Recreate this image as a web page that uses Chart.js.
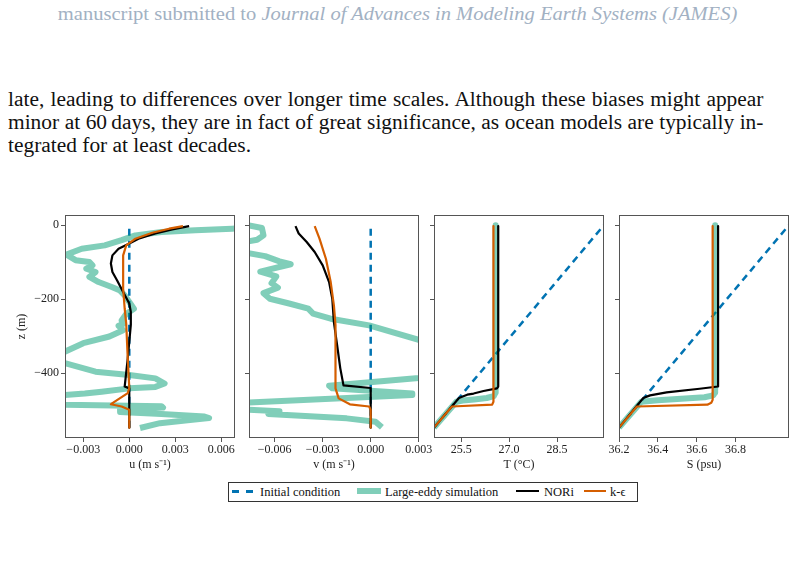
<!DOCTYPE html>
<html lang="en">
<head>
<meta charset="UTF-8">
<title>Ocean profiles after 60 days</title>
<script src="https://cdn.jsdelivr.net/npm/chart.js@4.4.0/dist/chart.umd.min.js"></script>
<style>
    body {
        margin: 0;
        width: 796px;
        height: 570px;
        position: relative;
        overflow: hidden;
        background: #fff;
        font-family: 'Liberation Serif', serif;
    }

    .header {
        position: absolute;
        top: 5px;
        left: 0;
        width: 796px;
        text-align: center;
        font-family: 'Liberation Serif', serif;
        font-size: 18.5px;
        line-height: 1;
        color: #a2b1c3;
        white-space: nowrap;
        transform: scaleX(1.11);
        transform-origin: 402px 0;
    }

    .para {
        position: absolute;
        left: 8px;
        top: 88px;
        width: 706px;
        font-family: 'Liberation Serif', serif;
        font-size: 20px;
        line-height: 23px;
        color: #111;
        transform: scaleX(1.07);
        transform-origin: 0 0;
    }

    .para div {
        white-space: nowrap;
        text-align: justify;
        text-align-last: justify;
    }

    .para div.last {
        text-align-last: left;
    }

    canvas {
        position: absolute;
    }

    /* figure legend, below the four panels */
    .legend {
        position: absolute;
        left: 228px;
        top: 482px;
        width: 408px;
        height: 18px;
        border: 1px solid #333;
        font-size: 12.5px;
        color: #111;
    }

    .legend span {
        position: absolute;
    }

    .legend .lab {
        top: 0;
        line-height: 18px;
        white-space: nowrap;
    }
</style>
</head>
<body>
    <div class="header">manuscript submitted to <i>Journal of Advances in Modeling Earth Systems (JAMES)</i></div>

    <div class="para">
        <div>late, leading to differences over longer time scales. Although these biases might appear</div>
        <div>minor at 60&thinsp;days, they are in fact of great significance, as ocean models are typically in-</div>
        <div class="last">tegrated for at least decades.</div>
    </div>

    <div id="figure"></div>

    <div class="legend">
        <span style="left:3px; top:7px; width:7px; height:2.5px; background:#0173b2"></span>
        <span style="left:17px; top:7px; width:7px; height:2.5px; background:#0173b2"></span>
        <span class="lab" style="left:31px">Initial condition</span>
        <span style="left:128px; top:5px; width:24px; height:6px; background:rgba(2,158,115,0.5)"></span>
        <span class="lab" style="left:156px">Large-eddy simulation</span>
        <span style="left:287px; top:7px; width:23px; height:2px; background:#000"></span>
        <span class="lab" style="left:315px">NORi</span>
        <span style="left:355px; top:7px; width:22px; height:2px; background:#d55e00"></span>
        <span class="lab" style="left:381px">k-&#1013;</span>
    </div>

<script>
    // ---- tick labels ----
    const zTicks = [0, -200, -400];
    const uTicks = [-0.003, 0, 0.003, 0.006];
    const vTicks = [-0.006, -0.003, 0, 0.003];
    const tTicks = [25.5, 27.0, 28.5];
    const sTicks = [36.2, 36.4, 36.6, 36.8];

    // ---- initial condition (z in m) ----
    const zInit = [-547, 0];
    const uInit = [0, 0];
    const vInit = [0, 0];
    const tInit = [24.65, 29.97];
    const sInit = [36.2, 37.075];

    // ---- u (m/s) ----
    const zLesU = [-4, -10, -14, -19, -28, -41, -55, -64, -80, -95, -100, -109, -118, -127, -140, -154, -168, -177, -190, -208,
                   -226, -240, -258, -267, -272, -284, -301, -319, -342, -357, -373, -396, -405, -414, -428, -437, -441, -450, -455, -459,
                   -472, -485, -489, -493, -496, -505, -510, -517, -521, -527, -535, -548];
    const uLes = [0.0095, 0.0067, 0.0043, 0.0021, 0.0004, -0.0005, -0.0016, -0.0031, -0.0041, -0.0035, -0.0026, -0.0024, -0.0028, -0.0022, -0.0026, -0.0020, -0.0011, -0.0006, -0.0003, 0.0000,
                  0.0003, -0.0002, -0.0005, -0.0004, -0.0007, -0.0004, -0.0013, -0.0030, -0.0042, -0.0052, -0.0042, -0.0022, 0.0000, 0.0017, 0.0023, 0.0017, 0.0000, -0.0018, -0.0029, -0.0042,
                  -0.0055, -0.0042, 0.0021, 0.0022, -0.0006, -0.0006, 0.0021, 0.0049, 0.0052, 0.0038, 0.0020, 0.0007];
    const zNoriU = [-3, -12, -23, -37, -50, -64, -82, -104, -127, -149, -181, -212, -235, -270, -315, -360, -436, -441, -547];
    const uNori = [0.0039, 0.0028, 0.0017, 0.0006, 0.0000, -0.0007, -0.0011, -0.0012, -0.0011, -0.0008, -0.0004, 0.0000, 0.0001, 0.0001, 0.0000, -0.0001, -0.0003, 0.0000, 0.0000];
    const zKepsU = [-3, -10, -21, -37, -55, -82, -118, -172, -226, -266, -360, -440, -454, -481, -484, -490, -499, -547];
    const uKeps = [0.0035, 0.0026, 0.0015, 0.0004, -0.0002, -0.0004, -0.0004, -0.0004, -0.0003, -0.0002, -0.0001, 0.0000, -0.0001, -0.0011, -0.0012, -0.0005, 0.0000, 0.0000];

    // ---- v (m/s) ----
    const zLesV = [-1, -8, -28, -40, -48, -72, -84, -98, -106, -126, -139, -157, -169, -184, -199, -212, -226, -239, -253, -271,
                   -310, -316, -410, -413, -434, -441, -455, -459, -480, -497, -503, -510, -522, -531, -546];
    const vLes = [-0.0076, -0.0068, -0.0067, -0.0071, -0.0082, -0.0082, -0.0066, -0.0057, -0.0050, -0.0069, -0.0059, -0.0062, -0.0058, -0.0067, -0.0063, -0.0051, -0.0039, -0.0036, -0.0025, -0.0001,
                  0.0030, 0.0036, 0.0036, 0.0030, -0.0026, -0.0024, 0.0026, 0.0026, -0.0082, -0.0082, -0.0057, -0.0064, -0.0015, 0.0003, 0.0007];
    const zNoriV = [-3, -23, -46, -73, -109, -154, -199, -262, -324, -387, -433, -440, -547];
    const vNori = [-0.0047, -0.0045, -0.0040, -0.0035, -0.0030, -0.0026, -0.0024, -0.0023, -0.0021, -0.0019, -0.0017, 0.0000, 0.0000];
    const zKepsV = [-3, -37, -91, -154, -217, -270, -315, -405, -441, -468, -484, -490, -499, -547];
    const vKeps = [-0.0035, -0.0032, -0.0028, -0.0025, -0.0023, -0.0022, -0.0022, -0.0022, -0.0022, -0.0020, -0.0013, -0.0001, 0.0000, 0.0000];

    // ---- T (degC) ----
    const zLesT = [-1, -452, -462, -467, -471, -474, -477, -547];
    const tLes = [26.58, 26.58, 26.52, 26.30, 25.90, 25.55, 25.35, 24.65];
    const zNoriT = [-3, -436, -441, -448, -455, -458, -467, -547];
    const tNori = [26.66, 26.66, 26.62, 26.20, 25.89, 25.69, 25.43, 24.65];
    const zKepsT = [-3, -477, -485, -490, -547];
    const tKeps = [26.51, 26.51, 26.47, 25.21, 24.65];

    // ---- S (psu) ----
    const zLesS = [-1, -452, -460, -465, -470, -473, -477, -547];
    const sLes = [36.695, 36.695, 36.685, 36.64, 36.50, 36.40, 36.315, 36.2];
    const zNoriS = [-3, -436, -442, -452, -460, -467, -547];
    const sNori = [36.71, 36.71, 36.615, 36.445, 36.36, 36.325, 36.2];
    const zKepsS = [-3, -472, -480, -485, -490, -547];
    const sKeps = [36.682, 36.682, 36.675, 36.655, 36.292, 36.2];

    const pts = (xs, zs) => xs.map((x, i) => ({ x: x, y: zs[i] }));
    const fmt = (v, d) => v.toFixed(d).replace('-', '\u2212');

    const font = { family: "'Liberation Serif', serif", size: 12 };
    const ink = '#222';

    // frame round the plot area (matplotlib spines)
    const frame = {
        id: 'frame',
        afterDatasetsDraw(chart) {
            const { ctx, chartArea: a } = chart;
            ctx.save();
            ctx.strokeStyle = '#555';
            ctx.lineWidth = 1;
            ctx.strokeRect(a.left + 0.5, a.top + 0.5, a.right - a.left - 1, a.bottom - a.top - 1);
            ctx.restore();
        }
    };

    const panels = [
        { left: 65, yw: 65, pr: 20, min: -0.00419, max: 0.00689, ticks: uTicks, dec: 3, title: 'u (m s\u207B\u00B9)', zLabels: true,
          init: pts(uInit, zInit), les: pts(uLes, zLesU), nori: pts(uNori, zNoriU), keps: pts(uKeps, zKepsU) },
        { left: 249, yw: 16, pr: 20, min: -0.007606, max: 0.003019, ticks: vTicks, dec: 3, title: 'v (m s\u207B\u00B9)', zLabels: false,
          init: pts(vInit, zInit), les: pts(vLes, zLesV), nori: pts(vNori, zNoriV), keps: pts(vKeps, zKepsV) },
        { left: 434, yw: 16, pr: 12, min: 24.65, max: 29.97, ticks: tTicks, dec: 1, title: 'T (\u00B0C)', zLabels: false,
          init: pts(tInit, zInit), les: pts(tLes, zLesT), nori: pts(tNori, zNoriT), keps: pts(tKeps, zKepsT) },
        { left: 619, yw: 16, pr: 7, min: 36.2, max: 37.075, ticks: sTicks, dec: 1, title: 'S (psu)', zLabels: false,
          init: pts(sInit, zInit), les: pts(sLes, zLesS), nori: pts(sNori, zNoriS), keps: pts(sKeps, zKepsS) }
    ];

    const plotW = 170;
    const axisH = 40;
    const figTop = 205;

    panels.forEach(p => {
        const canvas = document.createElement('canvas');
        canvas.width = p.yw + plotW + p.pr;
        canvas.height = 10 + 223 + axisH;
        canvas.style.left = (p.left - p.yw) + 'px';
        canvas.style.top = figTop + 'px';
        document.getElementById('figure').appendChild(canvas);

        const base = { showLine: true, pointRadius: 0, fill: false, borderJoinStyle: 'round' };

        new Chart(canvas.getContext('2d'), {
            type: 'scatter',
            data: {
                datasets: [
                    { ...base, label: 'Initial condition', data: p.init, borderColor: '#0173b2', borderWidth: 2.5, borderDash: [7, 5], order: 4 },
                    { ...base, label: 'Large-eddy simulation', data: p.les, borderColor: 'rgba(2,158,115,0.5)', borderWidth: 6, order: 3 },
                    { ...base, label: 'NORi', data: p.nori, borderColor: '#000000', borderWidth: 2.2, order: 2 },
                    { ...base, label: 'k-\u03F5', data: p.keps, borderColor: '#d55e00', borderWidth: 2.2, order: 1 }
                ]
            },
            options: {
                responsive: false,
                animation: false,
                events: [],
                layout: { padding: { top: 10, right: p.pr, left: 0, bottom: 0 } },
                plugins: { legend: { display: false }, tooltip: { enabled: false } },
                scales: {
                    x: {
                        type: 'linear',
                        min: p.min,
                        max: p.max,
                        afterBuildTicks: s => { s.ticks = p.ticks.map(v => ({ value: v })); },
                        afterFit: s => { s.height = axisH; s.paddingLeft = 0; s.paddingRight = 0; },
                        grid: { drawOnChartArea: false, tickLength: 4, color: '#555' },
                        border: { display: false },
                        ticks: { callback: v => fmt(v, p.dec), font: font, color: ink, padding: 1, maxRotation: 0, autoSkip: false },
                        title: { display: true, text: p.title, font: font, color: ink, padding: { top: 0, bottom: 6 } }
                    },
                    y: {
                        type: 'linear',
                        min: -575,
                        max: 27,
                        afterBuildTicks: s => { s.ticks = zTicks.map(v => ({ value: v })); },
                        afterFit: s => { s.width = p.yw; s.paddingTop = 0; s.paddingBottom = 0; },
                        grid: { drawOnChartArea: false, tickLength: 4, color: '#555' },
                        border: { display: false },
                        ticks: { display: p.zLabels, callback: v => fmt(v, 0), font: font, color: ink, padding: 2 },
                        title: { display: p.zLabels, text: 'z (m)', font: font, color: ink, padding: { top: 15, bottom: 0 } }
                    }
                }
            },
            plugins: [frame]
        });
    });
</script>
</body>
</html>
